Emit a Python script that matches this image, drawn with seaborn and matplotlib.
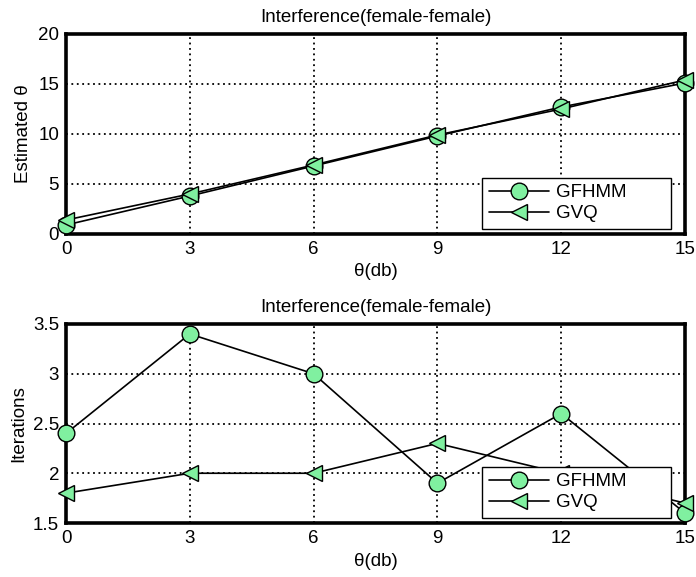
import numpy as np
import pandas as pd
import matplotlib
matplotlib.use("Agg")
import matplotlib.pyplot as plt
import seaborn as sns

# ---- data ----
theta_db = [0, 3, 6, 9, 12, 15]
est_gfhmm = [0.9, 3.8, 6.8, 9.8, 12.7, 15.1]
est_gvq = [1.4, 4.0, 6.9, 9.9, 12.5, 15.4]
iter_gfhmm = [2.4, 3.4, 3.0, 1.9, 2.6, 1.6]
iter_gvq = [1.8, 2.0, 2.0, 2.3, 2.0, 1.7]
series_names = ["GFHMM", "GVQ"]
title_text = "Interference(female-female)"
xlabel_text = "\u03b8(db)"
ylabel_top = "Estimated \u03b8"
ylabel_bottom = "Iterations"
xticks = [0, 3, 6, 9, 12, 15]
yticks_top = [0, 5, 10, 15, 20]
yticks_bottom = [1.5, 2, 2.5, 3, 3.5]
ytick_labels_bottom = ["1.5", "2", "2.5", "3", "3.5"]

sns.set_theme(style="white")
plt.rcParams["font.family"] = ["Liberation Sans", "DejaVu Sans"]
plt.rcParams.update({"text.color": "black", "axes.labelcolor": "black",
                     "xtick.color": "black", "ytick.color": "black"})
FS = 13.5

GREEN = "#80F0A0"
fig = plt.figure(figsize=(6.96, 5.77), dpi=100)
ax1 = fig.add_axes([66 / 696, 1 - 234 / 577, 619 / 696, 200 / 577])
ax2 = fig.add_axes([66 / 696, 1 - 523 / 577, 619 / 696, 199 / 577])


def draw(ax, ya, yb, yticks, ylabels, ylabel, ylim):
    df = pd.DataFrame({"theta": theta_db * 2,
                       "val": list(ya) + list(yb),
                       "series": [series_names[0]] * len(ya) + [series_names[1]] * len(yb)})
    styles = {series_names[0]: dict(marker="o", markersize=12),
              series_names[1]: dict(marker="<", markersize=11)}
    for name in series_names:
        sub = df[df["series"] == name]
        sns.lineplot(data=sub, x="theta", y="val", ax=ax, color="black",
                     linewidth=1.2, markerfacecolor=GREEN, markeredgecolor="black",
                     markeredgewidth=1.0, clip_on=False, zorder=3, label=name,
                     errorbar=None, legend=False, **styles[name])
    ax.set_xlim(0, 15)
    ax.set_ylim(*ylim)
    ax.set_xticks(xticks)
    ax.set_xticklabels([str(t) for t in xticks], fontsize=FS)
    ax.set_yticks(yticks)
    ax.set_yticklabels(ylabels, fontsize=FS)
    ax.grid(True, color="black", linestyle=(0, (1, 2)), linewidth=1.3)
    ax.set_axisbelow(True)
    for s in ax.spines.values():
        s.set_visible(True)
        s.set_color("black")
        s.set_linewidth(2.6)
    ax.tick_params(direction="in", length=4, width=1, pad=5, colors="black")
    ax.set_title(title_text, fontsize=FS, pad=9, color="black")
    ax.set_xlabel(xlabel_text, fontsize=FS, labelpad=4)
    ax.set_ylabel(ylabel, fontsize=FS, labelpad=4)
    handles = ax.get_lines()[:2]
    leg = ax.legend(handles, series_names, loc="lower left",
                    bbox_to_anchor=(0.672, 0.025, 0.305, 0.26), mode="expand",
                    borderaxespad=0, fontsize=FS, frameon=True, fancybox=False,
                    framealpha=1, facecolor="white",
                    handlelength=3.2, handletextpad=0.4, labelspacing=0.22,
                    borderpad=0.35, numpoints=1)
    leg.get_frame().set_edgecolor("black")
    leg.get_frame().set_linewidth(1.0)
    for t in leg.get_texts():
        t.set_color("black")
    leg.set_zorder(10)


draw(ax1, est_gfhmm, est_gvq, yticks_top, [str(v) for v in yticks_top], ylabel_top, (0, 20))
draw(ax2, iter_gfhmm, iter_gvq, yticks_bottom, ytick_labels_bottom, ylabel_bottom, (1.5, 3.5))

fig.savefig("out.png", dpi=100, facecolor="white")
